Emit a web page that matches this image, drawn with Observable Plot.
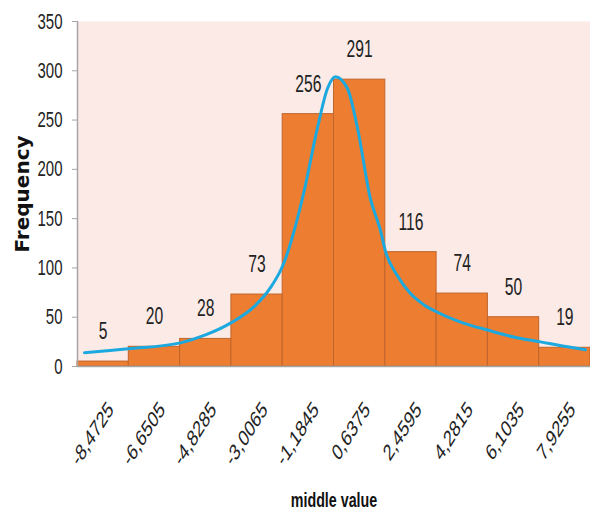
<!DOCTYPE html>
<html>
<head>
<meta charset="utf-8">
<script src="https://cdn.jsdelivr.net/npm/d3@7"></script>
<script src="https://cdn.jsdelivr.net/npm/@observablehq/plot@0.6"></script>
<style>
  html, body { margin: 0; padding: 0; background: #fff; }
</style>
</head>
<body>
<div id="chart"></div>
<script>
// Class middles (bin centres) and their printed labels
const middles = [-8.4725, -6.6505, -4.8285, -3.0065, -1.1845, 0.6375, 2.4595, 4.2815, 6.1035, 7.9255];
const tickLabels = ["-8,4725", "-6,6505", "-4,8285", "-3,0065", "-1,1845", "0,6375", "2,4595", "4,2815", "6,1035", "7,9255"];
// Frequencies per class
const freqs = [5, 20, 28, 73, 256, 291, 116, 74, 50, 19];
// Fitted curve
const curveX = [-9.135, -7.572, -5.726, -4.838, -3.950, -3.062, -2.530, -2.068, -1.358, -0.861, -0.506, -0.222, 0.205, 0.560, 1.021, 1.377, 1.554, 1.980, 2.442, 2.903, 3.401, 4.324, 5.176, 6.100, 7.058, 8.017, 8.656];
const curveY = [14, 18, 24, 32, 44, 62, 80, 104, 175, 242, 282, 294, 282, 242, 170, 138, 117, 92, 74, 63, 55, 44, 37, 30, 25, 20, 17];
const yTicks = [0, 50, 100, 150, 200, 250, 300, 350];

const binW = middles[1] - middles[0];
const bars = middles.map((m, i) => ({x1: m - binW / 2, x2: m + binW / 2, y: freqs[i], mid: m, label: tickLabels[i]}));
const curve = curveX.map((x, i) => ({x, y: curveY[i]}));
const xMin = middles[0] - binW / 2, xMax = middles[middles.length - 1] + binW / 2;

const FONT = "'Liberation Sans', Arial, sans-serif";
const chart = Plot.plot({
  width: 590,
  height: 514,
  marginLeft: 77,
  marginRight: 0,
  marginTop: 21,
  marginBottom: 148,
  x: {domain: [xMin, xMax], axis: null},
  y: {domain: [0, 350], axis: null},
  style: {fontFamily: FONT, background: "#fff"},
  marks: [
    Plot.frame({fill: "#FBEAE6", stroke: null}),
    Plot.rectY(bars, {x1: "x1", x2: "x2", y: "y", fill: "#ED7D31", stroke: "#C0652B", strokeWidth: 1}),
    Plot.line(curve, {x: "x", y: "y", curve: "monotone-x", stroke: "#1BA9E0", strokeWidth: 3}),
    Plot.text(bars, {x: "mid", y: "y", text: d => String(d.y), dy: -30, fontSize: 23, fill: "#222"}),
    Plot.ruleX([xMin], {stroke: "#A6A6A6", strokeWidth: 1.5}),
    Plot.ruleY([0], {stroke: "#A6A6A6", strokeWidth: 1.5}),
    Plot.axisY({ticks: yTicks, tickSize: 5, tickPadding: 10, fontSize: 22, stroke: "#A6A6A6", color: "#222", label: null}),
    Plot.text(bars, {x: "mid", y: 0, text: "label", rotate: -47, textAnchor: "end", lineAnchor: "middle", dx: 6, dy: 39, fontSize: 23, fill: "#222"}),
    Plot.text(["middle value"], {frameAnchor: "bottom", dy: 140, fontSize: 21, fontWeight: "bold", fill: "#111"}),
    Plot.text(["Frequency"], {frameAnchor: "left", textAnchor: "middle", dx: -55, rotate: -90, fontSize: 20, fontWeight: "bold", fill: "#111", fontFamily: "DejaVu Sans", className: "nosq"})
  ]
});
document.getElementById("chart").appendChild(chart);

// Narrow the glyphs horizontally (the reference text is tall and condensed)
const S = 0.68;
chart.querySelectorAll("text").forEach(t => {
  if (t.closest(".nosq")) return;
  const base = t.getAttribute("transform") || "";
  const c = t.transform.baseVal.consolidate();
  const M = c ? c.matrix : chart.createSVGMatrix();
  const x = t.x.baseVal.length ? t.x.baseVal[0].value : 0;
  const y = t.y.baseVal.length ? t.y.baseVal[0].value : 0;
  const ax = M.a * x + M.c * y + M.e, ay = M.b * x + M.d * y + M.f;
  t.setAttribute("transform", `translate(${ax},${ay}) scale(${S},1) translate(${-ax},${-ay}) ${base}`);
});
</script>
</body>
</html>
